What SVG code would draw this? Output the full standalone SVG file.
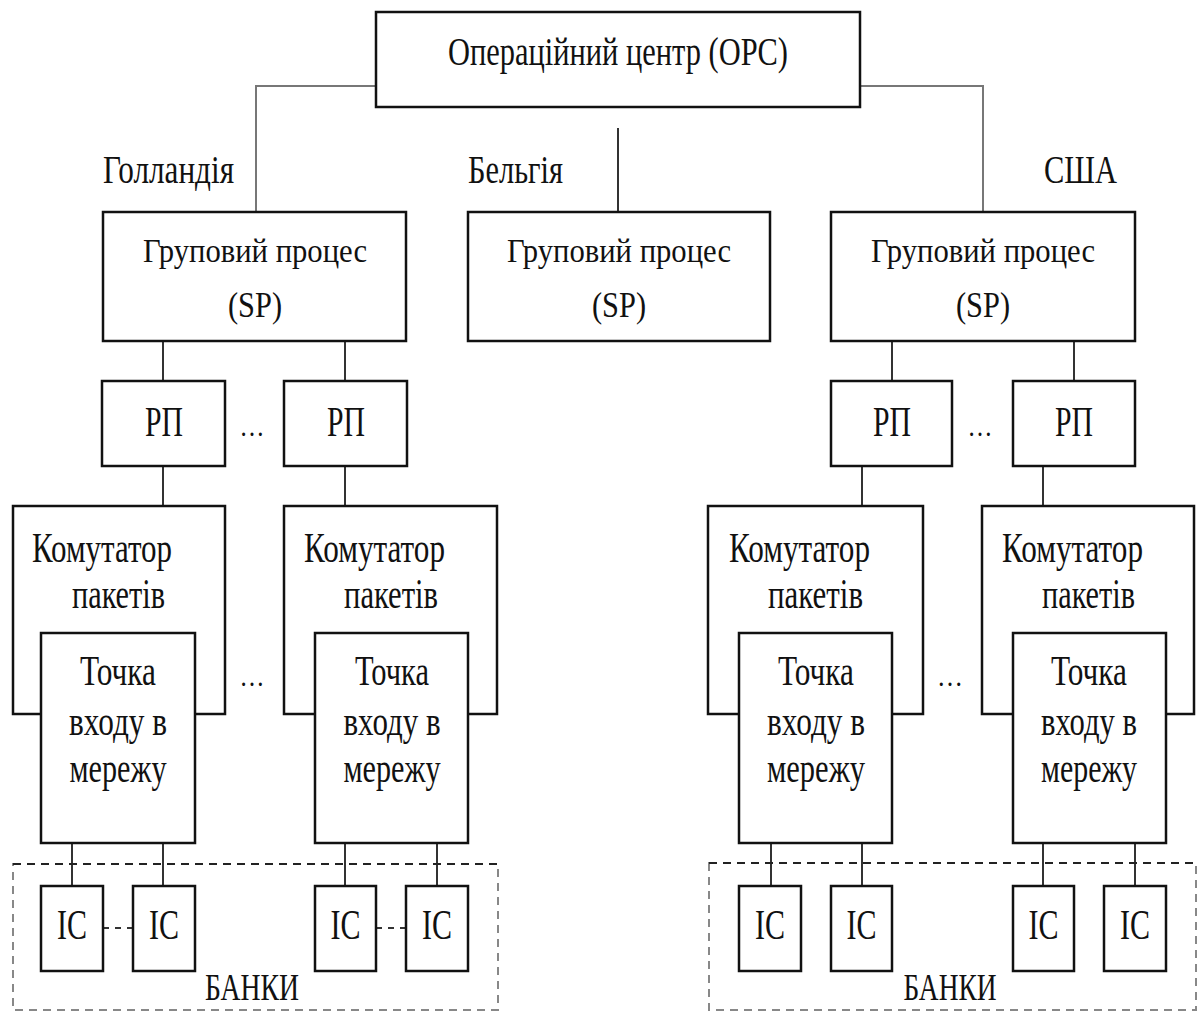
<svg xmlns="http://www.w3.org/2000/svg" width="1200" height="1012" viewBox="0 0 1200 1012">
<style>
.box{fill:#fff;stroke:#111;stroke-width:2.5}
.t{font-family:"Liberation Serif","Times New Roman",serif;fill:#111;text-anchor:middle}
.tl{font-family:"Liberation Serif","Times New Roman",serif;fill:#111}
.c{fill:none;stroke:#333;stroke-width:2}
.cg{fill:none;stroke:#777;stroke-width:2}
.d{fill:none;stroke:#333;stroke-width:2;stroke-dasharray:6,6}
.bank{fill:none;stroke:#888;stroke-width:2;stroke-dasharray:8,6}
.banktop{fill:none;stroke:#222;stroke-width:2;stroke-dasharray:8,6}
</style>
<rect width="1200" height="1012" fill="#fff"/>

<g id="connectors">
<polyline class="cg" points="376,86 256,86 256,212"/>
<polyline class="cg" points="860,86 983,86 983,212"/>
<line class="c" x1="618" y1="128" x2="618" y2="212"/>
<line class="c" x1="163" y1="341" x2="163" y2="381"/>
<line class="c" x1="345" y1="341" x2="345" y2="381"/>
<line class="c" x1="892" y1="341" x2="892" y2="381"/>
<line class="c" x1="1074" y1="341" x2="1074" y2="381"/>
<line class="c" x1="163" y1="466" x2="163" y2="506"/>
<line class="c" x1="345" y1="466" x2="345" y2="506"/>
<line class="c" x1="862" y1="466" x2="862" y2="506"/>
<line class="c" x1="1043" y1="466" x2="1043" y2="506"/>
<line class="c" x1="72" y1="843" x2="72" y2="886"/>
<line class="c" x1="163" y1="843" x2="163" y2="886"/>
<line class="c" x1="345" y1="843" x2="345" y2="886"/>
<line class="c" x1="437" y1="843" x2="437" y2="886"/>
<line class="c" x1="771" y1="843" x2="771" y2="886"/>
<line class="c" x1="862" y1="843" x2="862" y2="886"/>
<line class="c" x1="1043" y1="843" x2="1043" y2="886"/>
<line class="c" x1="1135" y1="843" x2="1135" y2="886"/>
<line class="d" x1="103" y1="928" x2="133" y2="928"/>
<line class="d" x1="376" y1="928" x2="406" y2="928"/>
</g>

<g id="banks-left">
<rect class="bank" x="13" y="864" width="485" height="146"/>
<line class="banktop" x1="13" y1="864" x2="498" y2="864"/>
<text class="t" x="252" y="1000" font-size="38" textLength="94" lengthAdjust="spacingAndGlyphs">БАНКИ</text>
</g>
<g id="banks-right">
<rect class="bank" x="709" y="863" width="487" height="147"/>
<line class="banktop" x1="709" y1="863" x2="1196" y2="863"/>
<text class="t" x="950" y="1000" font-size="38" textLength="93" lengthAdjust="spacingAndGlyphs">БАНКИ</text>
</g>

<g id="opc">
<rect class="box" x="376" y="12" width="484" height="95"/>
<text class="t" x="618" y="65" font-size="40" textLength="340" lengthAdjust="spacingAndGlyphs">Операційний центр (OPC)</text>
</g>

<g id="labels">
<text class="tl" x="103" y="183" font-size="40" textLength="131" lengthAdjust="spacingAndGlyphs">Голландія</text>
<text class="tl" x="468" y="183" font-size="40" textLength="95" lengthAdjust="spacingAndGlyphs">Бельгія</text>
<text class="tl" x="1044" y="183" font-size="40" textLength="73" lengthAdjust="spacingAndGlyphs">США</text>
</g>

<g id="sp-nl">
<rect class="box" x="103" y="212" width="303" height="129"/>
<text class="t" x="255" y="262" font-size="34" textLength="224" lengthAdjust="spacingAndGlyphs">Груповий процес</text>
<text class="t" x="255" y="317" font-size="36" textLength="54" lengthAdjust="spacingAndGlyphs">(SP)</text>
</g>
<g id="sp-be">
<rect class="box" x="468" y="212" width="302" height="129"/>
<text class="t" x="619" y="262" font-size="34" textLength="224" lengthAdjust="spacingAndGlyphs">Груповий процес</text>
<text class="t" x="619" y="317" font-size="36" textLength="54" lengthAdjust="spacingAndGlyphs">(SP)</text>
</g>
<g id="sp-us">
<rect class="box" x="831" y="212" width="304" height="129"/>
<text class="t" x="983" y="262" font-size="34" textLength="224" lengthAdjust="spacingAndGlyphs">Груповий процес</text>
<text class="t" x="983" y="317" font-size="36" textLength="54" lengthAdjust="spacingAndGlyphs">(SP)</text>
</g>

<g id="rp1"><rect class="box" x="102" y="381" width="123" height="85"/><text class="t" x="164" y="436" font-size="42" textLength="38" lengthAdjust="spacingAndGlyphs">РП</text></g>
<g id="rp2"><rect class="box" x="284" y="381" width="123" height="85"/><text class="t" x="346" y="436" font-size="42" textLength="38" lengthAdjust="spacingAndGlyphs">РП</text></g>
<g id="rp3"><rect class="box" x="831" y="381" width="121" height="85"/><text class="t" x="892" y="436" font-size="42" textLength="38" lengthAdjust="spacingAndGlyphs">РП</text></g>
<g id="rp4"><rect class="box" x="1013" y="381" width="122" height="85"/><text class="t" x="1074" y="436" font-size="42" textLength="38" lengthAdjust="spacingAndGlyphs">РП</text></g>

<g id="dots">
<text class="t" x="252" y="436" font-size="30" textLength="25" lengthAdjust="spacingAndGlyphs">…</text>
<text class="t" x="980" y="436" font-size="30" textLength="25" lengthAdjust="spacingAndGlyphs">…</text>
<text class="t" x="252" y="686" font-size="30" textLength="25" lengthAdjust="spacingAndGlyphs">…</text>
<text class="t" x="950" y="686" font-size="30" textLength="26" lengthAdjust="spacingAndGlyphs">…</text>
</g>

<g id="sw1">
<rect class="box" x="13" y="506" width="212" height="208"/>
<text class="tl" x="32" y="562" font-size="42" textLength="140" lengthAdjust="spacingAndGlyphs">Комутатор</text>
<text class="tl" x="72" y="608" font-size="42" textLength="93" lengthAdjust="spacingAndGlyphs">пакетів</text>
</g>
<g id="sw2">
<rect class="box" x="284" y="506" width="213" height="208"/>
<text class="tl" x="304" y="562" font-size="42" textLength="141" lengthAdjust="spacingAndGlyphs">Комутатор</text>
<text class="tl" x="344" y="608" font-size="42" textLength="94" lengthAdjust="spacingAndGlyphs">пакетів</text>
</g>
<g id="sw3">
<rect class="box" x="708" y="506" width="215" height="208"/>
<text class="tl" x="729" y="562" font-size="42" textLength="141" lengthAdjust="spacingAndGlyphs">Комутатор</text>
<text class="tl" x="768" y="608" font-size="42" textLength="95" lengthAdjust="spacingAndGlyphs">пакетів</text>
</g>
<g id="sw4">
<rect class="box" x="982" y="506" width="212" height="208"/>
<text class="tl" x="1002" y="562" font-size="42" textLength="141" lengthAdjust="spacingAndGlyphs">Комутатор</text>
<text class="tl" x="1042" y="608" font-size="42" textLength="93" lengthAdjust="spacingAndGlyphs">пакетів</text>
</g>

<g id="ep1">
<rect class="box" x="41" y="633" width="154" height="210"/>
<text class="t" x="118" y="685" font-size="42" textLength="76" lengthAdjust="spacingAndGlyphs">Точка</text>
<text class="t" x="118" y="735" font-size="42" textLength="98" lengthAdjust="spacingAndGlyphs">входу в</text>
<text class="t" x="118" y="782" font-size="42" textLength="97" lengthAdjust="spacingAndGlyphs">мережу</text>
</g>
<g id="ep2">
<rect class="box" x="315" y="633" width="153" height="210"/>
<text class="t" x="392" y="685" font-size="42" textLength="74" lengthAdjust="spacingAndGlyphs">Точка</text>
<text class="t" x="392" y="735" font-size="42" textLength="97" lengthAdjust="spacingAndGlyphs">входу в</text>
<text class="t" x="392" y="782" font-size="42" textLength="97" lengthAdjust="spacingAndGlyphs">мережу</text>
</g>
<g id="ep3">
<rect class="box" x="739" y="633" width="153" height="210"/>
<text class="t" x="816" y="685" font-size="42" textLength="76" lengthAdjust="spacingAndGlyphs">Точка</text>
<text class="t" x="816" y="735" font-size="42" textLength="98" lengthAdjust="spacingAndGlyphs">входу в</text>
<text class="t" x="816" y="782" font-size="42" textLength="98" lengthAdjust="spacingAndGlyphs">мережу</text>
</g>
<g id="ep4">
<rect class="box" x="1013" y="633" width="153" height="210"/>
<text class="t" x="1089" y="685" font-size="42" textLength="76" lengthAdjust="spacingAndGlyphs">Точка</text>
<text class="t" x="1089" y="735" font-size="42" textLength="96" lengthAdjust="spacingAndGlyphs">входу в</text>
<text class="t" x="1089" y="782" font-size="42" textLength="96" lengthAdjust="spacingAndGlyphs">мережу</text>
</g>

<g id="ic1"><rect class="box" x="41" y="886" width="62" height="85"/><text class="t" x="72" y="939" font-size="42" textLength="30" lengthAdjust="spacingAndGlyphs">IC</text></g>
<g id="ic2"><rect class="box" x="133" y="886" width="62" height="85"/><text class="t" x="164" y="939" font-size="42" textLength="30" lengthAdjust="spacingAndGlyphs">IC</text></g>
<g id="ic3"><rect class="box" x="315" y="886" width="61" height="85"/><text class="t" x="345.5" y="939" font-size="42" textLength="30" lengthAdjust="spacingAndGlyphs">IC</text></g>
<g id="ic4"><rect class="box" x="406" y="886" width="62" height="85"/><text class="t" x="437" y="939" font-size="42" textLength="30" lengthAdjust="spacingAndGlyphs">IC</text></g>
<g id="ic5"><rect class="box" x="739" y="886" width="62" height="85"/><text class="t" x="770" y="939" font-size="42" textLength="30" lengthAdjust="spacingAndGlyphs">IC</text></g>
<g id="ic6"><rect class="box" x="831" y="886" width="61" height="85"/><text class="t" x="861.5" y="939" font-size="42" textLength="30" lengthAdjust="spacingAndGlyphs">IC</text></g>
<g id="ic7"><rect class="box" x="1013" y="886" width="61" height="85"/><text class="t" x="1043.5" y="939" font-size="42" textLength="30" lengthAdjust="spacingAndGlyphs">IC</text></g>
<g id="ic8"><rect class="box" x="1104" y="886" width="62" height="85"/><text class="t" x="1135" y="939" font-size="42" textLength="30" lengthAdjust="spacingAndGlyphs">IC</text></g>
</svg>
